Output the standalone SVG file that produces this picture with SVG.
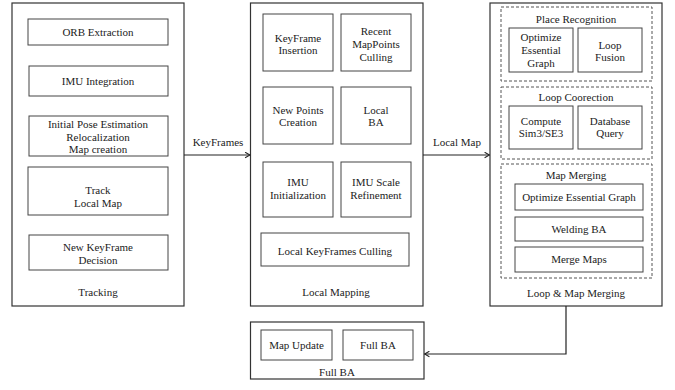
<svg xmlns="http://www.w3.org/2000/svg" width="675" height="390" viewBox="0 0 675 390" font-family="Liberation Serif, serif" font-size="11">
<defs>
<style>
.box{fill:#fff;stroke:#333;stroke-width:1.2}
.in{fill:#fff;stroke:#444;stroke-width:1}
.dash{fill:none;stroke:#555;stroke-width:1;stroke-dasharray:3,2}
.t{fill:#222;text-anchor:middle}
.con{fill:none;stroke:#222;stroke-width:1.2}
</style>
<marker id="arr" viewBox="0 0 10 10" refX="9" refY="5" markerWidth="7" markerHeight="7" orient="auto" markerUnits="userSpaceOnUse">
<path d="M2,1 L9,5 L2,9" fill="none" stroke="#222" stroke-width="1.5"/>
</marker>
</defs>
<rect width="675" height="390" fill="#fff"/>

<g id="tracking">
<rect class="box" x="12" y="3" width="172" height="303"/>
<g id="orb"><rect class="in" x="28" y="19" width="140" height="26"/><text class="t" x="98" y="36">ORB Extraction</text></g>
<g id="imu"><rect class="in" x="29" y="66" width="139" height="30"/><text class="t" x="98" y="85">IMU Integration</text></g>
<g id="initpose"><rect class="in" x="29" y="116" width="139" height="40"/><text class="t" x="98" y="128">Initial Pose Estimation</text><text class="t" x="98" y="141">Relocalization</text><text class="t" x="98" y="153">Map creation</text></g>
<g id="track"><rect class="in" x="28" y="167" width="140" height="48"/><text class="t" x="98" y="194">Track</text><text class="t" x="98" y="207">Local Map</text></g>
<g id="newkf"><rect class="in" x="29" y="235" width="139" height="35"/><text class="t" x="98" y="251">New KeyFrame</text><text class="t" x="98" y="264">Decision</text></g>
<text class="t" x="98" y="296">Tracking</text>
</g>

<g id="localmapping">
<rect class="box" x="250.5" y="3" width="172.5" height="303"/>
<g id="kfins"><rect class="in" x="263" y="14" width="70" height="57"/><text class="t" x="298" y="42">KeyFrame</text><text class="t" x="298" y="54">Insertion</text></g>
<g id="recent"><rect class="in" x="341" y="14" width="70" height="57"/><text class="t" x="376" y="35">Recent</text><text class="t" x="376" y="48">MapPoints</text><text class="t" x="376" y="61">Culling</text></g>
<g id="newpts"><rect class="in" x="263" y="87" width="70" height="57"/><text class="t" x="298" y="114">New Points</text><text class="t" x="298" y="126">Creation</text></g>
<g id="localba"><rect class="in" x="341" y="87" width="70" height="57"/><text class="t" x="376" y="114">Local</text><text class="t" x="376" y="126">BA</text></g>
<g id="imuinit"><rect class="in" x="263" y="162" width="70" height="55"/><text class="t" x="298" y="186">IMU</text><text class="t" x="298" y="199">Initialization</text></g>
<g id="imuscale"><rect class="in" x="341" y="162" width="70" height="55"/><text class="t" x="376" y="186">IMU Scale</text><text class="t" x="376" y="199">Refinement</text></g>
<g id="lkfcull"><rect class="in" x="261" y="233" width="148" height="33"/><text class="t" x="335" y="255">Local KeyFrames Culling</text></g>
<text class="t" x="336" y="296">Local Mapping</text>
</g>

<g id="loopmerge">
<rect class="box" x="490" y="3" width="172" height="303"/>
<g id="placerec">
<rect class="dash" x="501" y="7" width="151" height="74"/>
<text class="t" x="576" y="23">Place Recognition</text>
<g id="opteg1"><rect class="in" x="509" y="28" width="64" height="44"/><text class="t" x="541" y="41">Optimize</text><text class="t" x="541" y="54">Essential</text><text class="t" x="541" y="67">Graph</text></g>
<g id="loopfusion"><rect class="in" x="578" y="28" width="64" height="44"/><text class="t" x="610" y="49">Loop</text><text class="t" x="610" y="61">Fusion</text></g>
</g>
<g id="loopcorr">
<rect class="dash" x="501" y="87" width="151" height="72"/>
<text class="t" x="576" y="101">Loop Coorection</text>
<g id="compute"><rect class="in" x="509" y="106" width="64" height="43"/><text class="t" x="541" y="125">Compute</text><text class="t" x="541" y="137">Sim3/SE3</text></g>
<g id="dbquery"><rect class="in" x="578" y="106" width="64" height="43"/><text class="t" x="610" y="125">Database</text><text class="t" x="610" y="137">Query</text></g>
</g>
<g id="mapmerging">
<rect class="dash" x="501" y="164" width="151" height="114"/>
<text class="t" x="576" y="179">Map Merging</text>
<g id="opteg2"><rect class="in" x="515" y="184" width="128" height="26"/><text class="t" x="579" y="201">Optimize Essential Graph</text></g>
<g id="welding"><rect class="in" x="515" y="217" width="128" height="24"/><text class="t" x="579" y="233">Welding BA</text></g>
<g id="mergemaps"><rect class="in" x="515" y="247" width="128" height="25"/><text class="t" x="579" y="263">Merge Maps</text></g>
</g>
<text class="t" x="576" y="297">Loop &amp; Map Merging</text>
</g>

<g id="fullba">
<rect class="box" x="250.5" y="322" width="173.5" height="57"/>
<g id="mapupdate"><rect class="in" x="261" y="330" width="71" height="30"/><text class="t" x="296.5" y="349">Map Update</text></g>
<g id="fullbainner"><rect class="in" x="343" y="330" width="70" height="30"/><text class="t" x="378" y="349">Full BA</text></g>
<text class="t" x="337" y="376">Full BA</text>
</g>

<g id="connectors">
<line class="con" x1="184" y1="155" x2="250" y2="155" marker-end="url(#arr)"/>
<text class="t" x="218" y="146">KeyFrames</text>
<line class="con" x1="423" y1="155" x2="489.5" y2="155" marker-end="url(#arr)"/>
<text class="t" x="457" y="146">Local Map</text>
<polyline class="con" points="566,306 566,354 424.5,354" marker-end="url(#arr)"/>
</g>
</svg>
